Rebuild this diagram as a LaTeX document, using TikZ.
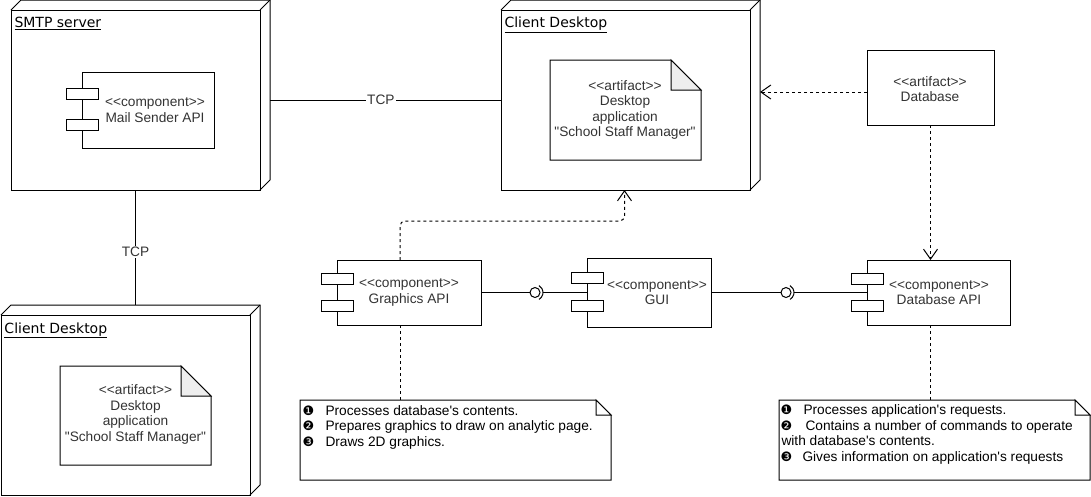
\documentclass[tikz,border=0pt]{standalone}
\usepackage{fontspec}
\newfontfamily\bodyfont{Liberation Sans}
\newfontfamily\titlefont{DejaVu Sans}
\newfontfamily\bulfont{DejaVu Sans}
\usetikzlibrary{calc,arrows.meta}
\definecolor{txt}{HTML}{333333}
\definecolor{foldgray}{HTML}{EEEEEE}
\newcommand\bul[1]{{\bulfont\fontsize{13}{13}\selectfont #1}}
\newcommand\threed[1]{%
  \draw (#1.north west) -- ++(10,-10) -- ($(#1.north east)+(10,-10)$) -- ($(#1.south east)+(10,-10)$) -- (#1.south east);
  \draw (#1.north east) -- ++(10,-10);}
\newcommand\foldshape[3]{%
  \draw (#1.north west) -- ($(#1.north east)+(-#2,0)$) -- ($(#1.north east)+(0,#2)$) -- (#1.south east) -- (#1.south west) -- cycle;
  \draw[fill=#3] ($(#1.north east)+(-#2,0)$) -- ($(#1.north east)+(-#2,#2)$) -- ($(#1.north east)+(0,#2)$) -- cycle;}
\newcommand\compdeco[1]{%
  \draw[fill=white] ($(#1.north west)!0.29!(#1.south west)+(-16,-5.5)$) rectangle ++(32,11);
  \draw[fill=white] ($(#1.north west)!0.70!(#1.south west)+(-16,-5.5)$) rectangle ++(32,11);}
\tikzset{
  nd/.style={draw, minimum width=249pt, minimum height=180pt, anchor=north west, inner sep=0pt, outer sep=0pt},
  ttl/.style={anchor=base west, inner sep=0pt, font=\titlefont\fontsize{14}{16}\selectfont, text=black},
  comp/.style={draw, anchor=north west, inner sep=0pt, outer sep=0pt},
  lbl/.style={align=center, inner sep=0pt},
  box/.style={anchor=north west, inner sep=0pt, outer sep=0pt},
  dep/.style={dash pattern=on 3pt off 3pt, -{Straight Barb[length=10pt,width=14pt]}},
  dotl/.style={dash pattern=on 3pt off 3pt},
  nline/.style={anchor=base west, inner sep=0pt, text=black},
  ball/.style={circle, draw, minimum size=10pt, inner sep=0pt, outer sep=0pt},
  tcp/.style={fill=white, inner sep=1pt}
}
\begin{document}
\begin{tikzpicture}[x=1pt,y=-1pt, line width=1pt, font=\bodyfont\fontsize{13.7}{15.5}\selectfont, text=txt]
\useasboundingbox (0,0) rectangle (1091,496);

% deployment nodes
\node[nd] (smtp) at (11,10) {};
\threed{smtp}
\node[ttl] (smtpT) at (14,27.5) {\underline{SMTP server}};

\node[nd] (cd1) at (501,10) {};
\threed{cd1}
\node[ttl] (cd1T) at (504,27.5) {\underline{Client Desktop}};

\node[nd] (cd2) at (1,315) {};
\threed{cd2}
\node[ttl] (cd2T) at (4,333) {\underline{Client Desktop}};

% components
\node[comp, minimum width=132pt, minimum height=76pt] (mail) at (82,72) {};
\compdeco{mail}
\node[lbl] (mailL) at (155,110) {<<component>>\\Mail Sender API};

\node[comp, minimum width=144pt, minimum height=65pt] (gapi) at (337,260) {};
\compdeco{gapi}
\node[lbl] (gapiL) at (409,292.5) {<<component>>\\Graphics API};

\node[comp, minimum width=124pt, minimum height=69pt] (gui) at (587,258) {};
\compdeco{gui}
\node[lbl] (guiL) at (657,292.5) {<<component>>\\GUI};

\node[comp, minimum width=143pt, minimum height=65pt] (dbapi) at (867,260) {};
\compdeco{dbapi}
\node[lbl] (dbapiL) at (939,292.5) {<<component>>\\Database API};

% artifacts
\node[box, minimum width=151pt, minimum height=100pt] (art1) at (550,60) {};
\foldshape{art1}{30}{foldgray}
\node[lbl] (art1L) at (625,110) {<<artifact>>\\Desktop\\application\\"School Staff Manager"};

\node[box, minimum width=151pt, minimum height=99pt] (art2) at (60,366) {};
\foldshape{art2}{30}{foldgray}
\node[lbl] (art2L) at (135.5,414.5) {<<artifact>>\\Desktop\\application\\"School Staff Manager"};

\node[box, draw, minimum width=127pt, minimum height=75pt] (db) at (867,50) {};
\node[lbl] (dbL) at (930,89) {<<artifact>>\\Database};

% notes
\node[box, minimum width=311pt, minimum height=80pt] (note1) at (300,400) {};
\foldshape{note1}{15}{white}
\node[nline] (n1a) at (302,415) {\makebox[23pt][l]{\bul{❶}}Processes database's contents.};
\node[nline] (n1b) at (302,430.5) {\makebox[23pt][l]{\bul{❷}}Prepares graphics to draw on analytic page.};
\node[nline] (n1c) at (302,446) {\makebox[23pt][l]{\bul{❸}}Draws 2D graphics.};

\node[box, minimum width=311pt, minimum height=80pt] (note2) at (779,400) {};
\foldshape{note2}{15}{white}
\node[nline] (n2a) at (780,414.5) {\makebox[23pt][l]{\bul{❶}}Processes application's requests.};
\node[nline] (n2b) at (780,430) {\makebox[25pt][l]{\bul{❷}}Contains a number of commands to operate};
\node[nline] (n2c) at (781,445.5) {with database's contents.};
\node[nline] (n2d) at (780,461) {\makebox[22pt][l]{\bul{❸}}Gives information on application's requests};

% connectors
\coordinate (smtpE) at ($(smtp.east)+(10,0)$);
\draw (smtpE) -- node[tcp, pos=0.48] (tcp1) {TCP} (cd1.west);

\coordinate (cd2top) at ($(cd2.north)+(10,-10)$);
\draw (smtp.south -| cd2top) -- node[tcp, pos=0.54] (tcp2) {TCP} (cd2top);

\coordinate (cd1E) at ($(cd1.east)+(10,-8)$);
\draw[dep] (db.west |- cd1E) -- (cd1E);

\draw[dep] (db.south) -- (db.south |- dbapi.north);

\coordinate (gA) at ($(gapi.north)+(-9,0)$);
\coordinate (gmid) at ($(cd1.south)+(-1,31)$);
\draw[dep, rounded corners=5pt] (gA) |- (gmid) -- ($(cd1.south)+(-1,0)$);

\draw[dotl] (gA |- gapi.south) -- (gA |- note1.north);
\draw[dotl] (db.south |- dbapi.south) -- (db.south |- note2.north);

% interfaces
\node[ball] (ball1) at (535,292.5) {};
\draw (gapi.east) -- (ball1.west);
\draw ($(ball1.center)+(60:8)$) arc (60:-60:8);
\draw ($(ball1.center)+(8,0)$) -- (gui.west);

\node[ball] (ball2) at (786,292.5) {};
\draw (gui.east) -- (ball2.west);
\draw ($(ball2.center)+(60:8)$) arc (60:-60:8);
\draw ($(ball2.center)+(8,0)$) -- (dbapi.west);
\end{tikzpicture}
\end{document}
